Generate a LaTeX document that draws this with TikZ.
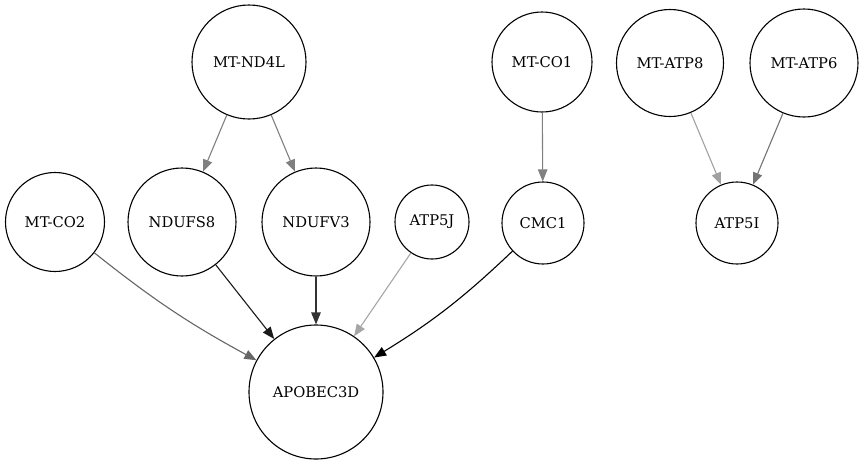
\documentclass[tikz,border=0pt]{standalone}
\usepackage{fontspec}
\setmainfont{DejaVu Serif}
\usetikzlibrary{arrows.meta}

\begin{document}
\begin{tikzpicture}[x=1pt,y=-1pt,
    gene/.style={draw,circle,inner sep=0pt,line width=1.1pt,font=\fontsize{14.7}{17}\selectfont},
    edge/.style={->,line width=1.1pt},
    >={Triangle[length=12pt,width=9.5pt]}]
        \useasboundingbox (0,0) rectangle (863,464);

        % 上段
        \node[gene,minimum size=114pt] (nd4l) at (249,62) {MT-ND4L};
        \node[gene,minimum size=100pt] (co1) at (542,62) {MT-CO1};
        \node[gene,minimum size=107pt] (atp8) at (670,63) {MT-ATP8};
        \node[gene,minimum size=108pt] (atp6) at (804,63) {MT-ATP6};

        % 中段
        \node[gene,minimum size=99pt] (co2) at (55,222) {MT-CO2};
        \node[gene,minimum size=108pt] (ndufs8) at (182,222) {NDUFS8};
        \node[gene,minimum size=108pt] (ndufv3) at (316,222) {NDUFV3};
        \node[gene,minimum size=74pt] (atp5j) at (432,222) {ATP5J};
        \node[gene,minimum size=82pt] (cmc1) at (543,223) {CMC1};
        \node[gene,minimum size=82pt] (atp5i) at (737,223) {ATP5I};

        % 下段
        \node[gene,minimum size=134pt] (apobec) at (316,392) {APOBEC3D};

        % 矢印
        \draw[edge,black!50] (nd4l) -- (ndufs8);
        \draw[edge,black!50] (nd4l) -- (ndufv3);
        \draw[edge,black!50] (co1) -- (cmc1);
        \draw[edge,black!37] (atp8) -- (atp5i);
        \draw[edge,black!55] (atp6) -- (atp5i);
        \draw[edge,black!60] (co2) to[bend right=5] (apobec);
        \draw[edge,black!90] (ndufs8) -- (apobec);
        \draw[edge,black!80] (ndufv3) -- (apobec);
        \draw[edge,black!35] (atp5j) -- (apobec);
        \draw[edge,black] (cmc1) to[bend left=6] (apobec);
      \end{tikzpicture}
\end{document}
